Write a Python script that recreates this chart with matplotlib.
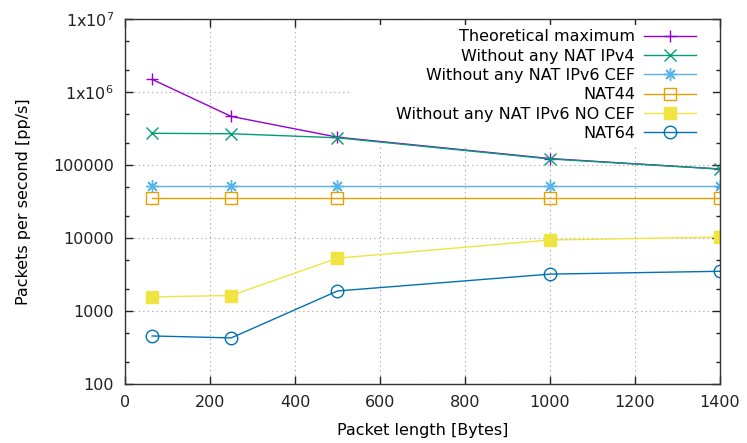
import matplotlib
matplotlib.use("Agg")
import matplotlib.pyplot as plt
from matplotlib.patches import Rectangle
from matplotlib.ticker import FixedLocator, FixedFormatter, MultipleLocator

# packet sizes [Bytes]
lengths = [64, 250, 500, 1000, 1400]

theoretical = [1488095, 462963, 240385, 122549, 88028]
ipv4_no_nat = [272000, 268000, 236000, 121000, 88000]
ipv6_cef = [51500, 51500, 51500, 51500, 51500]
nat44 = [35000, 35000, 35000, 35000, 35000]
ipv6_no_cef = [1560, 1630, 5300, 9400, 10300]
nat64 = [455, 428, 1880, 3200, 3500]

series = [
    ("Theoretical maximum", theoretical, "#9400d3", "+", "#9400d3"),
    ("Without any NAT IPv4", ipv4_no_nat, "#009e73", "x", "#009e73"),
    ("Without any NAT IPv6 CEF", ipv6_cef, "#56b4e9", (8, 2, 0), "#56b4e9"),
    ("NAT44", nat44, "#e69f00", "s", "none"),
    ("Without any NAT IPv6 NO CEF", ipv6_no_cef, "#f0e442", "s", "#f0e442"),
    ("NAT64", nat64, "#0072b2", "o", "none"),
]

y_ticks = [100, 1000, 10000, 100000, 1e6, 1e7]
y_labels = ["100", "1000", "10000", "100000", r"1x10$^{6}$", r"1x10$^{7}$"]

fig = plt.figure(figsize=(7.47, 4.43), dpi=100)
ax = fig.add_axes([0.1673, 0.1332, 0.7966, 0.8239])

for label, vals, color, marker, face in series:
    ax.plot(lengths, vals, color=color, lw=1.0, marker=marker, markersize=9,
            markerfacecolor=face, markeredgecolor=color, markeredgewidth=1.0,
            label=label)

ax.set_yscale("log")
ax.set_xlim(0, 1400)
ax.set_ylim(100, 1e7)
ax.xaxis.set_major_locator(MultipleLocator(200))
ax.yaxis.set_major_locator(FixedLocator(y_ticks))
ax.yaxis.set_major_formatter(FixedFormatter(y_labels))
minors = [m * 10 ** e for e in range(2, 7) for m in (2, 5)]
ax.yaxis.set_minor_locator(FixedLocator(minors))
ax.yaxis.set_minor_formatter(FixedFormatter([""] * len(minors)))

ax.tick_params(which="both", direction="in", top=True, right=True,
               labelsize=11.5, colors="#222222", width=1.0)
ax.tick_params(which="major", length=6, pad=8)
ax.tick_params(which="minor", length=3)
ax.grid(True, which="major", linestyle=(0, (1, 3)), color="#a0a0a0", lw=0.8)
for s in ax.spines.values():
    s.set_color("#333333")
    s.set_linewidth(1.0)

# opaque key area (hides the grid behind the legend, like gnuplot)
ax.add_patch(Rectangle((0.378, 0.655), 0.61, 0.328, transform=ax.transAxes,
                       facecolor="white", edgecolor="none", zorder=1.8))

ax.set_xlabel("Packet length [Bytes]", fontsize=11.5, labelpad=9)
ax.set_ylabel("Packets per second [pp/s]", fontsize=11.5, labelpad=16)

ax.legend(loc="upper right", bbox_to_anchor=(0.975, 0.998), frameon=False,
          markerfirst=False, fontsize=11.5, handlelength=3.2,
          labelspacing=0.27, handletextpad=0.6, borderaxespad=0.2)

fig.savefig("out.png", dpi=100)
